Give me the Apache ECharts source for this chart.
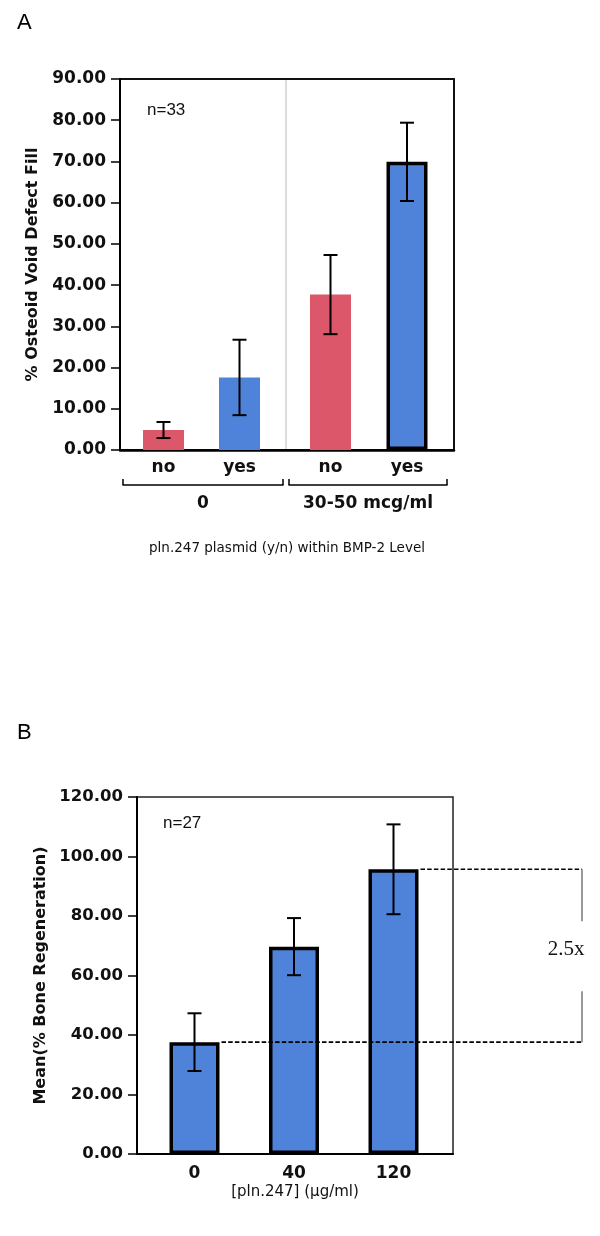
<!DOCTYPE html>
<html>
<head>
<meta charset="utf-8">
<script src="https://cdn.jsdelivr.net/npm/echarts@6/dist/echarts.min.js"></script>
<style>
html,body{margin:0;padding:0;background:#fff;}
#c{width:600px;height:1236px;}
</style>
</head>
<body>
<div id="c"></div>
<script>
// ---------- DATA ----------
// Panel A
const catsA = ["no", "yes"];
const groupsA = ["0", "30-50 mcg/ml"];
const meansA0 = [4.85, 17.6];     // BMP-2 level 0
const errA0   = [1.95, 9.15];
const meansA1 = [37.7, 69.9];     // BMP-2 level 30-50 mcg/ml
const errA1   = [9.6, 9.5];
const yTicksA = { min: 0, max: 90, interval: 10 };
const nA = "n=33";
// Panel B
const catsB = ["0", "40", "120"];
const meansB = [37.6, 69.7, 95.7];
const errB   = [9.7, 9.6, 15.1];
const yTicksB = { min: 0, max: 120, interval: 20 };
const nB = "n=27";
const foldLabel = "2.5x";

// ---------- STYLE ----------
const RED = "#DB5769";
const BLUE = "#4F83D9";
const F = "DejaVu Sans";
const fmt = v => v.toFixed(2);

const chart = echarts.init(document.getElementById('c'), null, {renderer: 'canvas'});

function errSeries(xi, yi, means, errs) {
  return {
    type: 'custom', xAxisIndex: xi, yAxisIndex: yi, z: 10,
    data: means.map((m, i) => [i, m - errs[i], m + errs[i]]),
    renderItem: function (params, api) {
      const lo = api.coord([api.value(0), api.value(1)]);
      const hi = api.coord([api.value(0), api.value(2)]);
      const w = 7;
      const st = {stroke: '#000', lineWidth: 2};
      return {type: 'group', children: [
        {type: 'line', shape: {x1: lo[0], y1: lo[1], x2: hi[0], y2: hi[1]}, style: st},
        {type: 'line', shape: {x1: lo[0]-w, y1: lo[1], x2: lo[0]+w, y2: lo[1]}, style: st},
        {type: 'line', shape: {x1: hi[0]-w, y1: hi[1], x2: hi[0]+w, y2: hi[1]}, style: st}
      ]};
    }
  };
}

const topA = 79, hA = 371, topB = 797, hB = 357;
const bracketDrop = 35;
const barWB = 50;

const hiddenY = (gi, t) => ({type: 'value', gridIndex: gi, min: t.min, max: t.max, interval: t.interval, show: false});

const option = {
  animation: false,
  backgroundColor: '#fff',
  grid: [
    {left: 120, top: topA, width: 334, height: hA, show: true, borderColor: '#111', borderWidth: 2, backgroundColor: 'transparent'}, // 0 frame A
    {left: 125.5, top: topA, width: 152, height: hA},   // 1 bars group 0
    {left: 292.25, top: topA, width: 153, height: hA},  // 2 bars group 30-50
    {left: 123, top: topA, width: 160, height: hA + bracketDrop},     // 3 bracket 0
    {left: 289, top: topA, width: 158, height: hA + bracketDrop},     // 4 bracket 30-50
    {left: 137, top: topB, width: 316, height: hB, show: true, borderColor: '#222', borderWidth: 1.5, backgroundColor: 'transparent'}, // 5 frame B
    {left: 144.75, top: topB, width: 298.5, height: hB} // 6 bars B
  ],
  xAxis: [
    {type: 'category', gridIndex: 0, data: [''], axisLine: {lineStyle: {color: '#000', width: 2.5}}, axisTick: {show: false}, axisLabel: {show: false},
     name: 'pln.247 plasmid (y/n) within BMP-2 Level', nameLocation: 'middle', nameGap: 91,
     nameTextStyle: {fontFamily: F, fontSize: 13.5, color: '#111'}},
    {type: 'category', gridIndex: 1, data: catsA, axisLine: {show: false}, axisTick: {show: false},
     axisLabel: {fontFamily: F, fontWeight: 'bold', fontSize: 17, color: '#111', margin: 9}},
    {type: 'category', gridIndex: 2, data: catsA, axisLine: {show: false}, axisTick: {show: false},
     axisLabel: {fontFamily: F, fontWeight: 'bold', fontSize: 17, color: '#111', margin: 9}},
    {type: 'category', gridIndex: 3, data: [groupsA[0]], axisLine: {lineStyle: {color: '#000', width: 1.5}},
     axisTick: {show: true, inside: true, length: 6, lineStyle: {color: '#000', width: 1.5}},
     axisLabel: {fontFamily: F, fontWeight: 'bold', fontSize: 17, color: '#111', margin: 10}},
    {type: 'category', gridIndex: 4, data: [groupsA[1]], axisLine: {lineStyle: {color: '#000', width: 1.5}},
     axisTick: {show: true, inside: true, length: 6, lineStyle: {color: '#000', width: 1.5}},
     axisLabel: {fontFamily: F, fontWeight: 'bold', fontSize: 17, color: '#111', margin: 10}},
    {type: 'category', gridIndex: 5, data: [''], axisLine: {lineStyle: {color: '#000', width: 2}}, axisTick: {show: false}, axisLabel: {show: false},
     name: '[pln.247] (µg/ml)', nameLocation: 'middle', nameGap: 31,
     nameTextStyle: {fontFamily: F, fontSize: 15, color: '#111'}},
    {type: 'category', gridIndex: 6, data: catsB, axisLine: {show: false}, axisTick: {show: false},
     axisLabel: {fontFamily: F, fontWeight: 'bold', fontSize: 17, color: '#111', margin: 11}}
  ],
  yAxis: [
    {type: 'value', gridIndex: 0, min: yTicksA.min, max: yTicksA.max, interval: yTicksA.interval,
     axisLine: {show: true, lineStyle: {color: '#000', width: 2}},
     axisTick: {show: true, length: 9, lineStyle: {color: '#000', width: 1.5}},
     axisLabel: {formatter: fmt, fontFamily: F, fontWeight: 'bold', fontSize: 17, color: '#111', margin: 14},
     splitLine: {show: false},
     name: '% Osteoid Void Defect Fill', nameLocation: 'middle', nameGap: 76,
     nameTextStyle: {fontFamily: F, fontWeight: 'bold', fontSize: 16, color: '#111'}},
    hiddenY(1, yTicksA), hiddenY(2, yTicksA),
    {type: 'value', gridIndex: 3, show: false},
    {type: 'value', gridIndex: 4, show: false},
    {type: 'value', gridIndex: 5, min: yTicksB.min, max: yTicksB.max, interval: yTicksB.interval,
     axisLine: {show: true, lineStyle: {color: '#000', width: 2}},
     axisTick: {show: true, length: 9, lineStyle: {color: '#000', width: 1.5}},
     axisLabel: {formatter: fmt, fontFamily: F, fontWeight: 'bold', fontSize: 16.5, color: '#111', margin: 14},
     splitLine: {show: false},
     name: 'Mean(% Bone Regeneration)', nameLocation: 'middle', nameGap: 84,
     nameTextStyle: {fontFamily: F, fontWeight: 'bold', fontSize: 16, color: '#111'}},
    hiddenY(6, yTicksB)
  ],
  series: [
    {type: 'bar', xAxisIndex: 1, yAxisIndex: 1, barWidth: 41,
     data: meansA0.map((v, i) => ({value: v, itemStyle: {color: i === 0 ? RED : BLUE}}))},
    errSeries(1, 1, meansA0, errA0),
    {type: 'bar', xAxisIndex: 2, yAxisIndex: 2, barWidth: 41,
     data: meansA1.map((v, i) => ({value: v, itemStyle: i === 0 ? {color: RED} : {color: BLUE, borderColor: '#000', borderWidth: 3.5}}))},
    errSeries(2, 2, meansA1, errA1),
    {type: 'bar', xAxisIndex: 6, yAxisIndex: 6, barWidth: barWB,
     itemStyle: {color: BLUE, borderColor: '#000', borderWidth: 3.5},
     data: meansB},
    errSeries(6, 6, meansB, errB)
  ]
};
chart.setOption(option);

// ---------- annotations derived from data ----------
const dividerX = 286;
const bw = barWB / 2 + 2;
const pLow = chart.convertToPixel({xAxisIndex: 6, yAxisIndex: 6}, [0, meansB[0]]);
const pHigh = chart.convertToPixel({xAxisIndex: 6, yAxisIndex: 6}, [2, meansB[2]]);
const xEnd = 582;
const dash = {stroke: '#000', lineWidth: 1.6, lineDash: [4.5, 2.2]};
const grey = {stroke: '#777', lineWidth: 1.5};
const mid = (pLow[1] + pHigh[1]) / 2;

chart.setOption({
  graphic: [
    {type: 'text', left: 17, top: 12, style: {text: 'A', font: '22px "Liberation Sans"', fill: '#000'}},
    {type: 'text', left: 17, top: 722, style: {text: 'B', font: '22px "Liberation Sans"', fill: '#000'}},
    {type: 'text', left: 147, top: 102, style: {text: nA, font: '17px "Liberation Sans Narrow", "Liberation Sans"', fill: '#111'}},
    {type: 'text', left: 163, top: 815, style: {text: nB, font: '17px "Liberation Sans Narrow", "Liberation Sans"', fill: '#111'}},
    {type: 'line', z: 1, shape: {x1: dividerX, y1: topA + 1, x2: dividerX, y2: topA + hA - 1}, style: {stroke: '#d0d0d0', lineWidth: 1.5}},
    {type: 'line', z: 100, shape: {x1: pHigh[0] + bw, y1: pHigh[1], x2: xEnd, y2: pHigh[1]}, style: dash},
    {type: 'line', z: 100, shape: {x1: pLow[0] + bw, y1: pLow[1], x2: xEnd, y2: pLow[1]}, style: dash},
    {type: 'line', z: 100, shape: {x1: xEnd, y1: pHigh[1], x2: xEnd, y2: pHigh[1] + 52}, style: grey},
    {type: 'line', z: 100, shape: {x1: xEnd, y1: pLow[1] - 51, x2: xEnd, y2: pLow[1]}, style: grey},
    {type: 'text', z: 100, x: 566, y: mid - 6, style: {text: foldLabel, font: '21px "Liberation Serif", "DejaVu Serif"', fill: '#111', align: 'center', verticalAlign: 'middle'}}
  ]
});
</script>
</body>
</html>
